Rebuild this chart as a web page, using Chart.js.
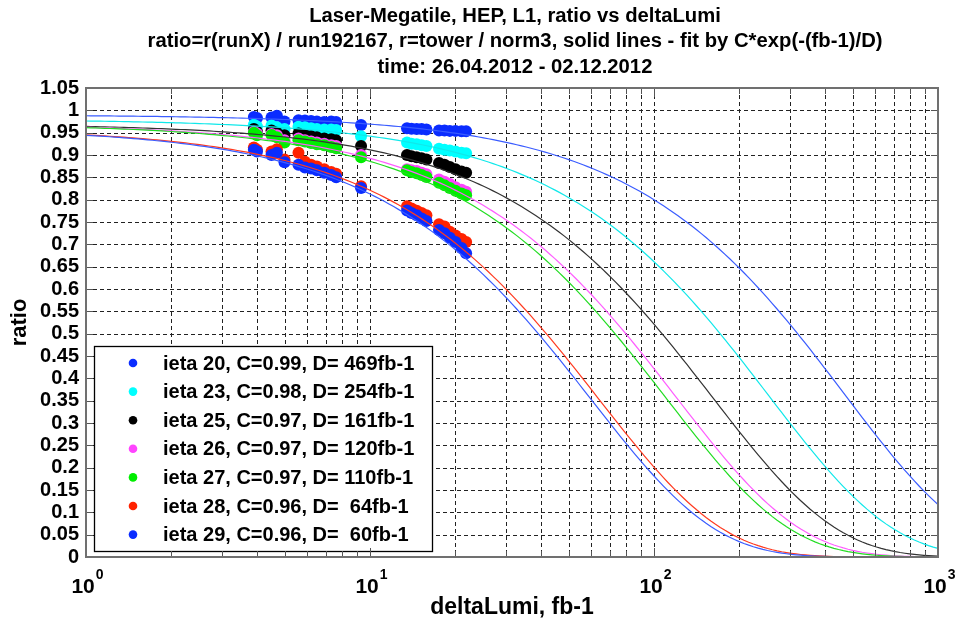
<!DOCTYPE html>
<html><head><meta charset="utf-8">
<script src="https://cdn.jsdelivr.net/npm/chart.js@4/dist/chart.umd.min.js"></script>
<style>html,body{margin:0;padding:0;background:#fff}#wrap{width:957px;height:626px;position:relative}</style>
</head><body><div id="wrap"><canvas id="c" width="957" height="626"></canvas></div>
<script>
// ---------- DATA ----------
const titleLines = [
  'Laser-Megatile, HEP, L1, ratio vs deltaLumi',
  'ratio=r(runX) / run192167, r=tower / norm3, solid lines - fit by C*exp(-(fb-1)/D)',
  'time: 26.04.2012 - 02.12.2012'
];
const xAxisTitle = 'deltaLumi, fb-1';
const yAxisTitle = 'ratio';
const seriesNames = ['ieta 20', 'ieta 23', 'ieta 25', 'ieta 26', 'ieta 27', 'ieta 28', 'ieta 29'];
const fitC = [0.99, 0.98, 0.97, 0.97, 0.97, 0.96, 0.96];
const fitD = [469, 254, 161, 120, 110, 64, 60];
const legendLabels = [
  'ieta 20, C=0.99, D= 469fb-1',
  'ieta 23, C=0.98, D= 254fb-1',
  'ieta 25, C=0.97, D= 161fb-1',
  'ieta 26, C=0.97, D= 120fb-1',
  'ieta 27, C=0.97, D= 110fb-1',
  'ieta 28, C=0.96, D=  64fb-1',
  'ieta 29, C=0.96, D=  60fb-1'
];
const deltaLumi = [3.9, 4.0, 4.5, 4.7, 5.0, 5.6, 5.9, 6.2, 6.5, 6.9, 7.3, 7.6, 9.3,
                   13.5, 14.0, 14.6, 15.2, 15.8, 17.5, 18.3, 19.1, 20.0, 21.0, 21.8];
const ratio20 = [0.985, 0.983, 0.984, 0.988, 0.975, 0.978, 0.977, 0.976, 0.975, 0.974, 0.975, 0.974, 0.967,
                 0.960, 0.959, 0.958, 0.958, 0.957, 0.955, 0.955, 0.954, 0.954, 0.953, 0.953];
const ratio23 = [0.968, 0.964, 0.966, 0.962, 0.958, 0.963, 0.962, 0.960, 0.958, 0.957, 0.957, 0.956, 0.942,
                 0.928, 0.925, 0.924, 0.922, 0.920, 0.914, 0.912, 0.910, 0.908, 0.905, 0.904];
const ratio25 = [0.958, 0.952, 0.955, 0.950, 0.944, 0.948, 0.945, 0.942, 0.940, 0.937, 0.935, 0.933, 0.920,
                 0.900, 0.897, 0.895, 0.893, 0.890, 0.882, 0.878, 0.873, 0.868, 0.863, 0.860];
const ratio26 = [0.952, 0.948, 0.947, 0.944, 0.933, 0.937, 0.933, 0.930, 0.928, 0.925, 0.922, 0.920, 0.900,
                 0.868, 0.866, 0.864, 0.860, 0.857, 0.845, 0.840, 0.835, 0.828, 0.822, 0.818];
const ratio27 = [0.950, 0.944, 0.945, 0.940, 0.928, 0.933, 0.930, 0.927, 0.924, 0.922, 0.918, 0.915, 0.895,
                 0.866, 0.862, 0.859, 0.855, 0.851, 0.838, 0.832, 0.826, 0.820, 0.814, 0.810];
const ratio28 = [0.917, 0.912, 0.908, 0.913, 0.890, 0.905, 0.885, 0.878, 0.874, 0.868, 0.862, 0.858, 0.830,
                 0.785, 0.780, 0.775, 0.770, 0.765, 0.745, 0.740, 0.728, 0.720, 0.712, 0.705];
const ratio29 = [0.912, 0.908, 0.900, 0.905, 0.884, 0.878, 0.872, 0.870, 0.866, 0.860, 0.855, 0.850, 0.826,
                 0.776, 0.770, 0.765, 0.758, 0.752, 0.732, 0.725, 0.715, 0.705, 0.692, 0.680];
const yTickLabels = ['0','0.05','0.1','0.15','0.2','0.25','0.3','0.35','0.4','0.45','0.5',
                     '0.55','0.6','0.65','0.7','0.75','0.8','0.85','0.9','0.95','1','1.05'];
const xTickValues = [1, 10, 100, 1000];
const xTickExponents = ['0', '1', '2', '3'];

// ---------- STYLE ----------
const FONT = '"Liberation Sans", Arial, Helvetica, sans-serif';
const pointColors = ['#0a2cff', '#00ffff', '#000000', '#ff44ff', '#00ee00', '#ff2200', '#0a2cff'];
const lineColors  = ['#3a5cff', '#10e8ea', '#333333', '#ff5cff', '#22dd22', '#ff3a20', '#3a5cff'];
const ratioSeries = [ratio20, ratio23, ratio25, ratio26, ratio27, ratio28, ratio29];

const pointSets = ratioSeries.map((arr, i) => ({
  type: 'scatter', label: seriesNames[i],
  data: deltaLumi.map((x, j) => ({x: x, y: arr[j]})),
  backgroundColor: pointColors[i], borderColor: pointColors[i], borderWidth: 0,
  pointRadius: 6, pointHoverRadius: 6, order: 100 - i
}));
const fitX = Array.from({length: 181}, (_, k) => Math.pow(10, k / 60));
const lineSets = fitC.map((C, i) => ({
  type: 'line', label: seriesNames[i] + ' fit',
  data: fitX.map(x => ({x: x, y: C * Math.exp(-x / fitD[i])})),
  borderColor: lineColors[i], borderWidth: 1.2, pointRadius: 0, fill: false,
  tension: 0, order: 10 - i
}));

const decorPlugin = {
  id: 'decor',
  beforeDatasetsDraw(chart) {
    const c = chart.ctx, a = chart.chartArea, xs = chart.scales.x, ys = chart.scales.y;
    c.save();
    c.strokeStyle = '#222'; c.lineWidth = 1; c.setLineDash([4, 3]);
    for (let k = 1; k < 21; k++) {
      const py = Math.round(ys.getPixelForValue(k * 0.05)) + 0.5;
      c.beginPath(); c.moveTo(a.left, py); c.lineTo(a.right, py); c.stroke();
    }
    for (let d = 1; d <= 100; d *= 10) {
      for (let m = (d === 1 ? 2 : 1); m <= 9; m++) {
        const px = Math.round(xs.getPixelForValue(m * d)) + 0.5;
        c.beginPath(); c.moveTo(px, a.top); c.lineTo(px, a.bottom); c.stroke();
      }
    }
    c.restore();
  },
  afterDatasetsDraw(chart) {
    const c = chart.ctx, a = chart.chartArea;
    const bx = a.left + 8, by = a.bottom - 211, bw = 338, bh = 205;
    c.save();
    c.fillStyle = '#fff'; c.fillRect(bx, by, bw, bh);
    c.strokeStyle = '#000'; c.lineWidth = 1.3; c.strokeRect(bx + 0.5, by + 0.5, bw, bh);
    c.font = 'bold 20px ' + FONT; c.textBaseline = 'middle'; c.textAlign = 'left';
    legendLabels.forEach((t, i) => {
      const y = by + 17 + i * 28.6;
      c.fillStyle = pointColors[i];
      c.beginPath(); c.arc(bx + 39, y, 4.3, 0, Math.PI * 2); c.fill();
      c.fillStyle = '#000';
      c.fillText(t, bx + 69, y + 1);
    });
    c.restore();
  },
  afterDraw(chart) {
    const c = chart.ctx, a = chart.chartArea, xs = chart.scales.x, ys = chart.scales.y;
    c.save();
    c.strokeStyle = '#555'; c.lineWidth = 1;
    for (let k = 1; k < 21; k++) {
      const py = Math.round(ys.getPixelForValue(k * 0.05)) + 0.5;
      c.beginPath(); c.moveTo(a.left, py); c.lineTo(a.left + 7, py);
      c.moveTo(a.right, py); c.lineTo(a.right - 7, py); c.stroke();
    }
    for (let d = 1; d <= 100; d *= 10) {
      for (let m = (d === 1 ? 2 : 1); m <= 9; m++) {
        const px = Math.round(xs.getPixelForValue(m * d)) + 0.5;
        const len = m === 1 ? 9 : 6;
        c.beginPath(); c.moveTo(px, a.bottom); c.lineTo(px, a.bottom - len);
        c.moveTo(px, a.top); c.lineTo(px, a.top + len); c.stroke();
      }
    }
    c.strokeStyle = '#707070'; c.lineWidth = 2;
    c.strokeRect(a.left, a.top, a.right - a.left, a.bottom - a.top);
    c.fillStyle = '#000'; c.textBaseline = 'alphabetic';
    xTickValues.forEach((v, i) => {
      const px = xs.getPixelForValue(v);
      c.font = 'bold 21px ' + FONT;
      const w1 = c.measureText('10').width;
      c.font = 'bold 14px ' + FONT;
      const w2 = c.measureText(xTickExponents[i]).width;
      const x0 = px - (w1 + w2) / 2 + 1;
      c.font = 'bold 21px ' + FONT; c.textAlign = 'left';
      c.fillText('10', x0, a.bottom + 36);
      c.font = 'bold 14px ' + FONT;
      c.fillText(xTickExponents[i], x0 + w1 + 1, a.bottom + 22);
    });
    // title, horizontally condensed like the original
    c.font = 'bold 20px ' + FONT; c.textAlign = 'center'; c.textBaseline = 'middle';
    const sx = 735 / c.measureText(titleLines[1]).width;
    titleLines.forEach((t, i) => {
      c.save();
      c.translate(515, 16 + i * 25.5);
      c.scale(sx, 1);
      c.fillText(t, 0, 0);
      c.restore();
    });
    c.restore();
  }
};

new Chart(document.getElementById('c'), {
  type: 'scatter',
  data: { datasets: [...pointSets, ...lineSets] },
  options: {
    responsive: false, animation: false, devicePixelRatio: 1,
    layout: { padding: { top: 88, right: 19, left: 0, bottom: 0 } },
    plugins: { legend: { display: false }, title: { display: false }, tooltip: { enabled: false } },
    scales: {
      x: {
        type: 'logarithmic', min: 1, max: 1000,
        ticks: { display: false }, grid: { display: false }, border: { display: false },
        title: { display: true, text: xAxisTitle, color: '#000',
                 font: { family: FONT, size: 23, weight: 'bold' }, padding: { top: 4, bottom: 5 } },
        afterFit(s) { s.height = 69; }
      },
      y: {
        type: 'linear', min: 0, max: 1.05,
        ticks: { stepSize: 0.05, autoSkip: false, color: '#000', padding: 7,
                 font: { family: FONT, size: 20, weight: 'bold' },
                 callback: (v, i) => yTickLabels[i] },
        grid: { display: false, drawTicks: false }, border: { display: false },
        title: { display: true, text: yAxisTitle, color: '#000',
                 font: { family: FONT, size: 22, weight: 'bold' }, padding: { top: 7, bottom: 0 } },
        afterFit(s) { s.width = 86; }
      }
    }
  },
  plugins: [decorPlugin]
});
</script></body></html>
